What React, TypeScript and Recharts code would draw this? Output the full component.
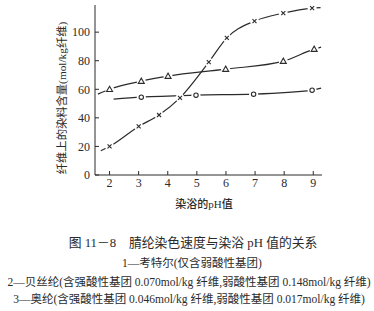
import React from "react"
import { Line, LineChart, XAxis, YAxis } from "recharts"

// pH values and dye uptake
const courtellePh = [2, 3, 3.7, 4.42, 5.41, 6.03, 6.98, 7.97, 8.96]
const courtelleVal = [20, 34, 42, 54, 79, 96, 107.7, 113.3, 116.8]
const courtelleEnds = [
  [1.7, 17],
  [9.25, 117.2],
]

const beslonPh = [2, 3.09, 4.01, 5.99, 7.97, 9.03]
const beslonVal = [60, 65.7, 69.2, 74.1, 79.7, 88.1]
const beslonEnds = [
  [1.6, 56.6],
  [9.27, 89.5],
]

const orlonPh = [3.09, 4.97, 6.95, 8.96]
const orlonVal = [54.5, 55.9, 56.6, 59.4]
const orlonEnds = [
  [2.14, 53.1],
  [9.27, 60.8],
]

const xTicks = [2, 3, 4, 5, 6, 7, 8, 9]
const yTicks = [0, 20, 40, 60, 80, 100]
const seriesTags = ["1", "2", "3"]

const yTitle = "纤维上的染料含量(mol/kg纤维)"
const xTitle = "染浴的pH值"
const caption = "图 11－8　腈纶染色速度与染浴 pH 值的关系"
const notes = [
  "1—考特尔(仅含弱酸性基团)",
  "2—贝丝纶(含强酸性基团 0.070mol/kg 纤维,弱酸性基团 0.148mol/kg 纤维)",
  "3—奥纶(含强酸性基团 0.046mol/kg 纤维,弱酸性基团 0.017mol/kg 纤维)",
]

type Pt = { ph: number; v: number; mark: boolean; tag?: string }

function build(ph: number[], val: number[], ends: number[][], tag: string): Pt[] {
  const pts: Pt[] = ph.map((p, i) => ({ ph: p, v: val[i], mark: true }))
  return [
    { ph: ends[0][0], v: ends[0][1], mark: false },
    ...pts,
    { ph: ends[1][0], v: ends[1][1], mark: false, tag },
  ]
}

const ink = "#2b2b2b"
const serif = "'Liberation Serif', 'DejaVu Serif', 'Noto Sans CJK SC', serif"
const cjk = "'Liberation Serif', 'Noto Sans CJK SC', serif"

function makeDot(kind: "x" | "tri" | "o") {
  return (props: any) => {
    const { cx, cy, payload, index } = props
    if (cx == null || cy == null) return <g key={index} />
    if (payload.tag) {
      return (
        <text key={index} x={cx + 3} y={cy + 4} fontSize={12} fill={ink} fontFamily={serif}>
          {payload.tag}
        </text>
      )
    }
    if (!payload.mark) return <g key={index} />
    let glyph
    if (kind === "x") {
      glyph = (
        <path
          d={`M${cx - 2},${cy - 2}L${cx + 2},${cy + 2}M${cx - 2},${cy + 2}L${cx + 2},${cy - 2}`}
          stroke={ink}
          strokeWidth={1.1}
        />
      )
    } else if (kind === "tri") {
      glyph = (
        <path
          d={`M${cx},${cy - 3}L${cx + 3},${cy + 2.2}L${cx - 3},${cy + 2.2}Z`}
          stroke={ink}
          strokeWidth={1.1}
          fill="#fff"
        />
      )
    } else {
      glyph = <circle cx={cx} cy={cy} r={2.2} stroke={ink} strokeWidth={1.1} fill="#fff" />
    }
    return (
      <g key={index}>
        <circle cx={cx} cy={cy} r={4.5} fill="#fff" />
        {glyph}
      </g>
    )
  }
}

export default function App() {
  const s1 = build(courtellePh, courtelleVal, courtelleEnds, seriesTags[0])
  const s2 = build(beslonPh, beslonVal, beslonEnds, seriesTags[1])
  const s3 = build(orlonPh, orlonVal, orlonEnds, seriesTags[2])

  return (
    <div style={{ position: "absolute", left: 0, top: 0, width: 374, height: 311, background: "#fff", color: ink }}>
      <LineChart width={374} height={215} margin={{ top: 5, right: 52, left: 55, bottom: 20 }}>
        <XAxis
          type="number"
          dataKey="ph"
          domain={[1.5, 9.3]}
          ticks={xTicks}
          allowDataOverflow
          height={20}
          tickSize={-4}
          tickMargin={7}
          stroke={ink}
          tick={{ fill: ink, fontSize: 12, fontFamily: serif }}
        />
        <YAxis
          type="number"
          dataKey="v"
          domain={[0, 119]}
          ticks={yTicks}
          allowDataOverflow
          width={40}
          tickSize={-4}
          tickMargin={9}
          stroke={ink}
          tick={{ fill: ink, fontSize: 12, fontFamily: serif }}
        />
        <Line data={s2} dataKey="v" type="monotone" stroke={ink} strokeWidth={1.2} dot={makeDot("tri")} isAnimationActive={false} />
        <Line data={s3} dataKey="v" type="monotone" stroke={ink} strokeWidth={1.2} dot={makeDot("o")} isAnimationActive={false} />
        <Line data={s1} dataKey="v" type="monotone" stroke={ink} strokeWidth={1.2} dot={makeDot("x")} isAnimationActive={false} />
      </LineChart>

      <div
        style={{
          position: "absolute",
          left: 61,
          top: 98,
          transform: "translate(-50%, -50%) rotate(-90deg)",
          whiteSpace: "nowrap",
          fontSize: 11.3,
          fontFamily: cjk,
        }}
      >
        {yTitle}
      </div>
      <div style={{ position: "absolute", left: 204, top: 203, transform: "translate(-50%, -50%)", whiteSpace: "nowrap", fontSize: 11, fontFamily: cjk, fontWeight: 500 }}>
        {xTitle}
      </div>
      <div style={{ position: "absolute", left: 193, top: 241, transform: "translate(-50%, -50%)", whiteSpace: "nowrap", fontSize: 12.8, fontFamily: cjk }}>
        {caption}
      </div>
      {notes.map((n, i) => (
        <div
          key={i}
          style={{
            position: "absolute",
            left: i === 0 ? 192 : 189,
            top: [262, 281, 298][i],
            transform: "translate(-50%, -50%)",
            whiteSpace: "nowrap",
            fontSize: 11.5,
            fontFamily: cjk,
          }}
        >
          {n}
        </div>
      ))}
    </div>
  )
}
